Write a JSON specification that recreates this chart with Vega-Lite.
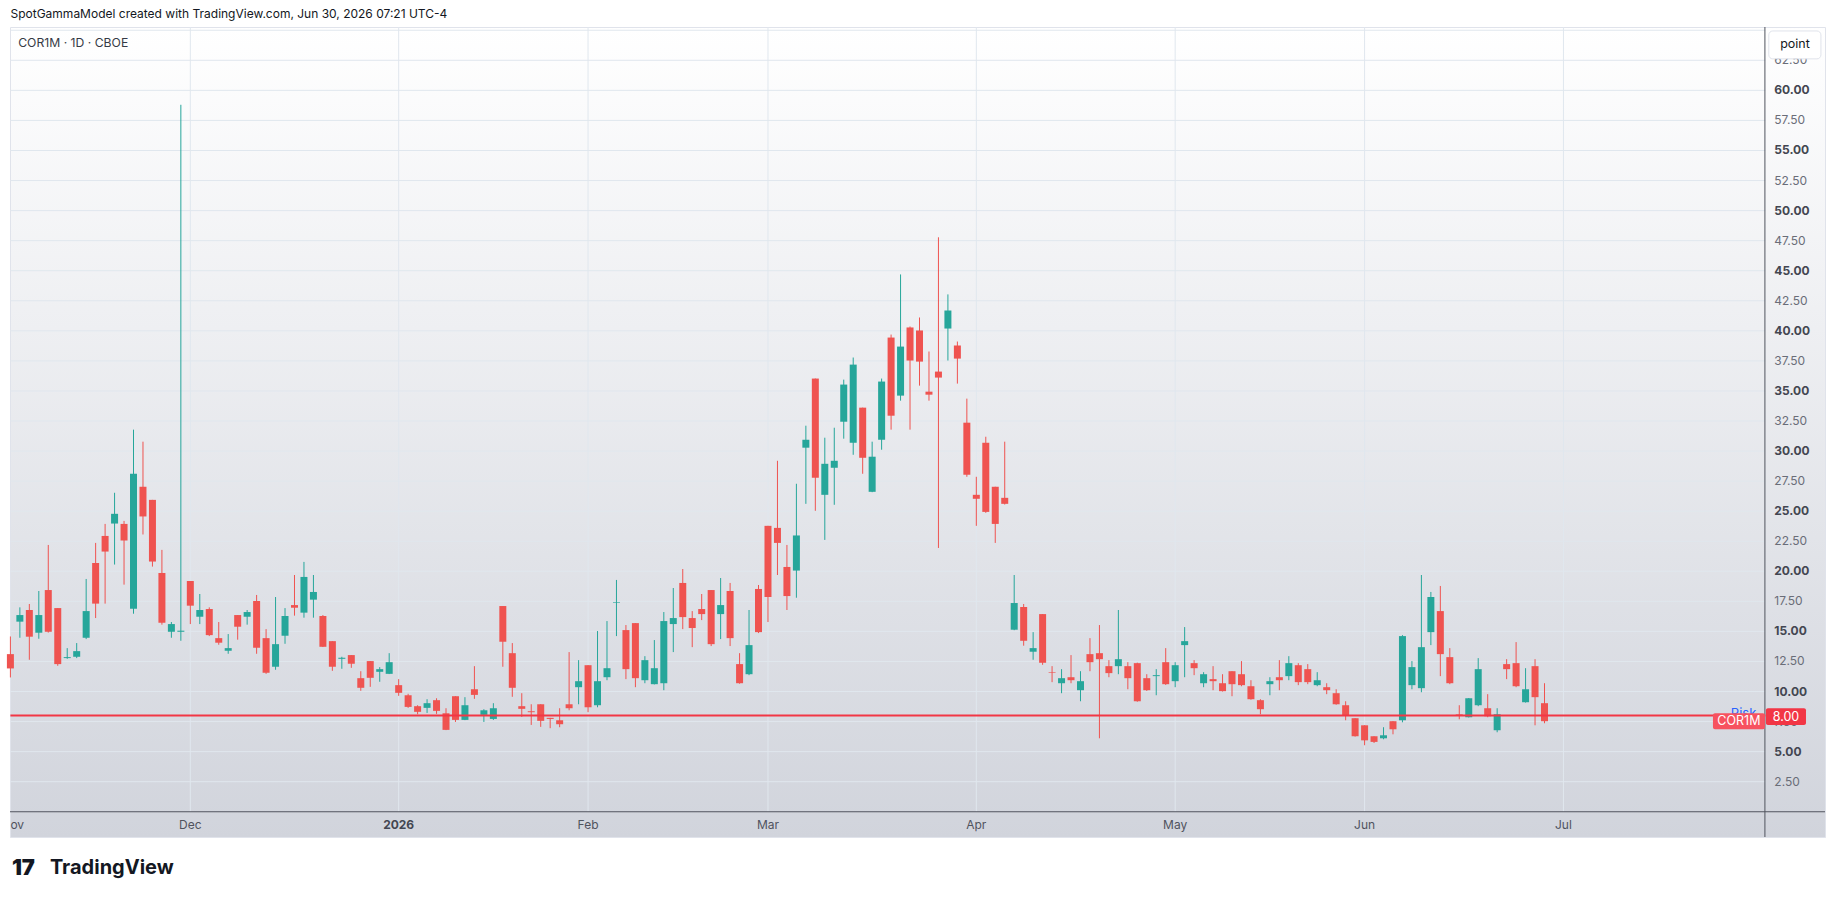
{
  "$schema": "https://vega.github.io/schema/vega-lite/v6.json",
  "width": 1815,
  "height": 810,
  "autosize": "none",
  "padding": {"left": 10, "top": 27, "right": 10, "bottom": 61},
  "background": "#ffffff",
  "config": {
    "font": "Inter",
    "view": {
      "fill": {"gradient": "linear", "x1": 0, "y1": 0, "x2": 0, "y2": 1,
        "stops": [{"offset": 0, "color": "#ffffff"}, {"offset": 1, "color": "#d1d4dc"}]},
      "stroke": "#e0e3eb"
    }
  },
  "title": {
    "text": "SpotGammaModel created with TradingView.com, Jun 30, 2026 07:21 UTC-4",
    "anchor": "start",
    "frame": "group",
    "offset": 6,
    "fontSize": 12,
    "fontWeight": "normal",
    "color": "#131722",
    "dx": 0.5
  },
  "datasets": {
    "candles": [
      {"d": "2025-11-03", "o": 13.11, "h": 14.58, "l": 11.17, "c": 11.92},
      {"d": "2025-11-04", "o": 15.81, "h": 17.0, "l": 14.47, "c": 16.36},
      {"d": "2025-11-05", "o": 16.78, "h": 17.28, "l": 12.64, "c": 14.56},
      {"d": "2025-11-06", "o": 14.89, "h": 18.36, "l": 14.39, "c": 16.36},
      {"d": "2025-11-07", "o": 18.44, "h": 22.19, "l": 14.9, "c": 14.97},
      {"d": "2025-11-10", "o": 16.94, "h": 16.94, "l": 12.14, "c": 12.28},
      {"d": "2025-11-11", "o": 12.78, "h": 13.61, "l": 12.72, "c": 12.86},
      {"d": "2025-11-12", "o": 12.89, "h": 14.03, "l": 12.78, "c": 13.36},
      {"d": "2025-11-13", "o": 14.47, "h": 19.36, "l": 14.36, "c": 16.69},
      {"d": "2025-11-14", "o": 20.69, "h": 22.36, "l": 16.11, "c": 17.31},
      {"d": "2025-11-17", "o": 22.94, "h": 23.94, "l": 17.31, "c": 21.64},
      {"d": "2025-11-18", "o": 23.97, "h": 26.53, "l": 20.56, "c": 24.78},
      {"d": "2025-11-19", "o": 23.94, "h": 24.19, "l": 18.89, "c": 22.56},
      {"d": "2025-11-20", "o": 16.89, "h": 31.78, "l": 16.47, "c": 28.11},
      {"d": "2025-11-21", "o": 27.03, "h": 30.78, "l": 23.06, "c": 24.56},
      {"d": "2025-11-24", "o": 25.94, "h": 25.94, "l": 20.39, "c": 20.81},
      {"d": "2025-11-25", "o": 19.86, "h": 21.78, "l": 15.56, "c": 15.72},
      {"d": "2025-11-26", "o": 14.97, "h": 15.78, "l": 14.47, "c": 15.61},
      {"d": "2025-11-28", "o": 14.97, "h": 58.8, "l": 14.22, "c": 15.06},
      {"d": "2025-12-01", "o": 19.19, "h": 19.19, "l": 15.61, "c": 17.14},
      {"d": "2025-12-02", "o": 16.22, "h": 18.11, "l": 15.61, "c": 16.78},
      {"d": "2025-12-03", "o": 16.86, "h": 17.0, "l": 14.61, "c": 14.69},
      {"d": "2025-12-04", "o": 14.44, "h": 15.78, "l": 13.89, "c": 14.06},
      {"d": "2025-12-05", "o": 13.39, "h": 14.78, "l": 13.14, "c": 13.61},
      {"d": "2025-12-08", "o": 16.36, "h": 16.36, "l": 14.31, "c": 15.39},
      {"d": "2025-12-09", "o": 16.22, "h": 16.78, "l": 15.56, "c": 16.61},
      {"d": "2025-12-10", "o": 17.53, "h": 18.03, "l": 13.14, "c": 13.64},
      {"d": "2025-12-11", "o": 14.44, "h": 15.19, "l": 11.47, "c": 11.56},
      {"d": "2025-12-12", "o": 12.06, "h": 17.86, "l": 11.81, "c": 13.94},
      {"d": "2025-12-15", "o": 14.64, "h": 16.94, "l": 13.97, "c": 16.28},
      {"d": "2025-12-16", "o": 17.19, "h": 19.69, "l": 16.31, "c": 16.97},
      {"d": "2025-12-17", "o": 16.56, "h": 20.78, "l": 16.14, "c": 19.53},
      {"d": "2025-12-18", "o": 17.64, "h": 19.69, "l": 16.14, "c": 18.28},
      {"d": "2025-12-19", "o": 16.28, "h": 16.36, "l": 13.7, "c": 13.72},
      {"d": "2025-12-22", "o": 14.19, "h": 14.19, "l": 11.72, "c": 12.06},
      {"d": "2025-12-23", "o": 12.72, "h": 12.89, "l": 11.89, "c": 12.81},
      {"d": "2025-12-24", "o": 13.03, "h": 13.03, "l": 11.97, "c": 12.31},
      {"d": "2025-12-26", "o": 11.11, "h": 11.69, "l": 10.06, "c": 10.31},
      {"d": "2025-12-29", "o": 12.53, "h": 12.53, "l": 10.39, "c": 11.14},
      {"d": "2025-12-30", "o": 11.64, "h": 12.03, "l": 10.81, "c": 11.86},
      {"d": "2025-12-31", "o": 11.47, "h": 13.19, "l": 11.45, "c": 12.44},
      {"d": "2026-01-02", "o": 10.53, "h": 11.03, "l": 9.64, "c": 9.89},
      {"d": "2026-01-05", "o": 9.69, "h": 9.81, "l": 8.64, "c": 8.72},
      {"d": "2026-01-06", "o": 8.78, "h": 8.86, "l": 8.11, "c": 8.31},
      {"d": "2026-01-07", "o": 8.64, "h": 9.36, "l": 8.22, "c": 9.03},
      {"d": "2026-01-08", "o": 9.28, "h": 9.44, "l": 8.14, "c": 8.39},
      {"d": "2026-01-09", "o": 8.19, "h": 8.61, "l": 6.79, "c": 6.81},
      {"d": "2026-01-12", "o": 9.61, "h": 9.61, "l": 7.47, "c": 7.64},
      {"d": "2026-01-13", "o": 7.64, "h": 9.53, "l": 7.62, "c": 8.86},
      {"d": "2026-01-14", "o": 10.19, "h": 12.11, "l": 9.39, "c": 9.72},
      {"d": "2026-01-15", "o": 8.06, "h": 8.53, "l": 7.47, "c": 8.44},
      {"d": "2026-01-16", "o": 7.72, "h": 9.03, "l": 7.64, "c": 8.61},
      {"d": "2026-01-20", "o": 17.11, "h": 17.11, "l": 12.06, "c": 14.14},
      {"d": "2026-01-21", "o": 13.19, "h": 14.03, "l": 9.56, "c": 10.31},
      {"d": "2026-01-22", "o": 8.78, "h": 9.86, "l": 7.89, "c": 8.56},
      {"d": "2026-01-23", "o": 8.36, "h": 8.94, "l": 7.22, "c": 8.28},
      {"d": "2026-01-26", "o": 8.94, "h": 8.94, "l": 7.06, "c": 7.56},
      {"d": "2026-01-27", "o": 7.81, "h": 7.81, "l": 6.95, "c": 7.72},
      {"d": "2026-01-28", "o": 7.61, "h": 8.61, "l": 7.03, "c": 7.28},
      {"d": "2026-01-29", "o": 8.94, "h": 13.28, "l": 8.44, "c": 8.61},
      {"d": "2026-01-30", "o": 10.36, "h": 12.61, "l": 8.94, "c": 10.86},
      {"d": "2026-02-02", "o": 12.19, "h": 12.19, "l": 8.28, "c": 8.69},
      {"d": "2026-02-03", "o": 8.86, "h": 15.03, "l": 8.69, "c": 10.86},
      {"d": "2026-02-04", "o": 11.19, "h": 15.86, "l": 10.94, "c": 11.94},
      {"d": "2026-02-05", "o": 17.39, "h": 19.28, "l": 14.61, "c": 17.44},
      {"d": "2026-02-06", "o": 15.11, "h": 15.53, "l": 11.03, "c": 11.86},
      {"d": "2026-02-09", "o": 15.69, "h": 15.69, "l": 10.36, "c": 11.11},
      {"d": "2026-02-10", "o": 10.94, "h": 12.94, "l": 10.69, "c": 12.61},
      {"d": "2026-02-11", "o": 10.61, "h": 14.28, "l": 10.59, "c": 11.94},
      {"d": "2026-02-12", "o": 10.69, "h": 16.61, "l": 10.11, "c": 15.86},
      {"d": "2026-02-13", "o": 15.61, "h": 18.61, "l": 13.28, "c": 16.11},
      {"d": "2026-02-17", "o": 19.03, "h": 20.19, "l": 15.19, "c": 16.19},
      {"d": "2026-02-18", "o": 16.11, "h": 16.69, "l": 13.69, "c": 15.28},
      {"d": "2026-02-19", "o": 16.86, "h": 18.11, "l": 15.94, "c": 16.44},
      {"d": "2026-02-20", "o": 18.44, "h": 18.44, "l": 13.78, "c": 13.94},
      {"d": "2026-02-23", "o": 16.44, "h": 19.44, "l": 14.36, "c": 17.19},
      {"d": "2026-02-24", "o": 18.36, "h": 19.03, "l": 13.78, "c": 14.44},
      {"d": "2026-02-25", "o": 12.28, "h": 13.19, "l": 10.65, "c": 10.69},
      {"d": "2026-02-26", "o": 11.44, "h": 16.78, "l": 11.36, "c": 13.86},
      {"d": "2026-02-27", "o": 18.53, "h": 18.86, "l": 14.86, "c": 14.94},
      {"d": "2026-03-02", "o": 23.78, "h": 23.78, "l": 15.78, "c": 17.86},
      {"d": "2026-03-03", "o": 23.61, "h": 29.19, "l": 19.69, "c": 22.36},
      {"d": "2026-03-04", "o": 20.36, "h": 22.19, "l": 16.78, "c": 17.94},
      {"d": "2026-03-05", "o": 20.06, "h": 27.28, "l": 17.8, "c": 22.98},
      {"d": "2026-03-06", "o": 30.28, "h": 32.11, "l": 25.61, "c": 30.94},
      {"d": "2026-03-09", "o": 36.03, "h": 36.03, "l": 25.03, "c": 27.78},
      {"d": "2026-03-10", "o": 26.36, "h": 31.11, "l": 22.61, "c": 28.94},
      {"d": "2026-03-11", "o": 28.61, "h": 31.94, "l": 25.53, "c": 29.19},
      {"d": "2026-03-12", "o": 32.44, "h": 35.94, "l": 31.03, "c": 35.53},
      {"d": "2026-03-13", "o": 30.69, "h": 37.78, "l": 29.69, "c": 37.19},
      {"d": "2026-03-16", "o": 33.61, "h": 33.61, "l": 28.11, "c": 29.44},
      {"d": "2026-03-17", "o": 26.61, "h": 30.78, "l": 26.58, "c": 29.53},
      {"d": "2026-03-18", "o": 30.94, "h": 36.03, "l": 30.11, "c": 35.78},
      {"d": "2026-03-19", "o": 39.44, "h": 39.69, "l": 31.78, "c": 32.94},
      {"d": "2026-03-20", "o": 34.61, "h": 44.69, "l": 34.19, "c": 38.69},
      {"d": "2026-03-23", "o": 40.28, "h": 40.36, "l": 31.78, "c": 37.53},
      {"d": "2026-03-24", "o": 40.03, "h": 41.11, "l": 35.44, "c": 37.44},
      {"d": "2026-03-25", "o": 34.94, "h": 38.28, "l": 34.19, "c": 34.69},
      {"d": "2026-03-26", "o": 36.61, "h": 47.78, "l": 21.94, "c": 36.11},
      {"d": "2026-03-27", "o": 40.19, "h": 43.03, "l": 37.53, "c": 41.69},
      {"d": "2026-03-30", "o": 38.78, "h": 39.11, "l": 35.61, "c": 37.69},
      {"d": "2026-03-31", "o": 32.36, "h": 34.36, "l": 27.86, "c": 28.03},
      {"d": "2026-04-01", "o": 26.36, "h": 27.86, "l": 23.78, "c": 26.03},
      {"d": "2026-04-02", "o": 30.69, "h": 31.19, "l": 24.86, "c": 24.94},
      {"d": "2026-04-06", "o": 27.03, "h": 27.03, "l": 22.36, "c": 23.94},
      {"d": "2026-04-07", "o": 26.11, "h": 30.78, "l": 25.55, "c": 25.61},
      {"d": "2026-04-08", "o": 15.14, "h": 19.69, "l": 15.1, "c": 17.36},
      {"d": "2026-04-09", "o": 17.03, "h": 17.28, "l": 13.81, "c": 14.22},
      {"d": "2026-04-10", "o": 13.31, "h": 14.94, "l": 12.64, "c": 13.61},
      {"d": "2026-04-13", "o": 16.44, "h": 16.44, "l": 12.22, "c": 12.39},
      {"d": "2026-04-14", "o": 11.61, "h": 12.11, "l": 10.78, "c": 11.56},
      {"d": "2026-04-15", "o": 10.69, "h": 11.86, "l": 9.86, "c": 11.11},
      {"d": "2026-04-16", "o": 11.19, "h": 13.03, "l": 10.69, "c": 10.94},
      {"d": "2026-04-17", "o": 10.11, "h": 11.69, "l": 9.19, "c": 10.86},
      {"d": "2026-04-20", "o": 13.11, "h": 14.44, "l": 11.69, "c": 12.44},
      {"d": "2026-04-21", "o": 13.19, "h": 15.53, "l": 6.11, "c": 12.69},
      {"d": "2026-04-22", "o": 12.11, "h": 12.61, "l": 11.19, "c": 11.53},
      {"d": "2026-04-23", "o": 12.11, "h": 16.78, "l": 11.44, "c": 12.69},
      {"d": "2026-04-24", "o": 12.11, "h": 12.44, "l": 10.19, "c": 11.11},
      {"d": "2026-04-27", "o": 12.36, "h": 12.4, "l": 9.15, "c": 9.19},
      {"d": "2026-04-28", "o": 11.11, "h": 11.44, "l": 10.05, "c": 10.11},
      {"d": "2026-04-29", "o": 11.28, "h": 11.86, "l": 9.69, "c": 11.36},
      {"d": "2026-04-30", "o": 12.44, "h": 13.61, "l": 10.55, "c": 10.61},
      {"d": "2026-05-01", "o": 10.86, "h": 12.44, "l": 10.36, "c": 12.19},
      {"d": "2026-05-04", "o": 13.86, "h": 15.36, "l": 11.19, "c": 14.19},
      {"d": "2026-05-05", "o": 12.36, "h": 12.61, "l": 11.36, "c": 11.94},
      {"d": "2026-05-06", "o": 10.69, "h": 11.61, "l": 10.36, "c": 11.44},
      {"d": "2026-05-07", "o": 11.03, "h": 12.11, "l": 10.11, "c": 10.86},
      {"d": "2026-05-08", "o": 10.69, "h": 11.44, "l": 10.0, "c": 10.03},
      {"d": "2026-05-11", "o": 11.69, "h": 11.69, "l": 9.61, "c": 10.61},
      {"d": "2026-05-12", "o": 11.44, "h": 12.53, "l": 10.44, "c": 10.53},
      {"d": "2026-05-13", "o": 10.44, "h": 10.94, "l": 9.32, "c": 9.36},
      {"d": "2026-05-14", "o": 9.28, "h": 9.36, "l": 8.11, "c": 8.53},
      {"d": "2026-05-15", "o": 10.61, "h": 11.19, "l": 9.69, "c": 10.86},
      {"d": "2026-05-18", "o": 11.19, "h": 12.61, "l": 10.11, "c": 10.94},
      {"d": "2026-05-19", "o": 11.28, "h": 12.94, "l": 10.94, "c": 12.36},
      {"d": "2026-05-20", "o": 12.19, "h": 12.36, "l": 10.53, "c": 10.78},
      {"d": "2026-05-21", "o": 11.86, "h": 12.28, "l": 10.61, "c": 10.78},
      {"d": "2026-05-22", "o": 10.53, "h": 11.61, "l": 10.44, "c": 10.94},
      {"d": "2026-05-26", "o": 10.36, "h": 10.69, "l": 9.78, "c": 10.11},
      {"d": "2026-05-27", "o": 9.86, "h": 10.19, "l": 8.9, "c": 8.94},
      {"d": "2026-05-28", "o": 8.86, "h": 9.19, "l": 7.61, "c": 8.03},
      {"d": "2026-05-29", "o": 7.78, "h": 7.78, "l": 6.25, "c": 6.28},
      {"d": "2026-06-01", "o": 7.19, "h": 7.19, "l": 5.53, "c": 5.94},
      {"d": "2026-06-02", "o": 6.28, "h": 6.28, "l": 5.72, "c": 5.81},
      {"d": "2026-06-03", "o": 6.11, "h": 7.03, "l": 6.03, "c": 6.36},
      {"d": "2026-06-04", "o": 7.53, "h": 7.53, "l": 6.44, "c": 6.86},
      {"d": "2026-06-05", "o": 7.61, "h": 14.69, "l": 7.44, "c": 14.61},
      {"d": "2026-06-08", "o": 10.53, "h": 12.53, "l": 10.19, "c": 12.03},
      {"d": "2026-06-09", "o": 10.28, "h": 19.69, "l": 9.94, "c": 13.69},
      {"d": "2026-06-10", "o": 14.94, "h": 18.28, "l": 13.86, "c": 17.86},
      {"d": "2026-06-11", "o": 16.69, "h": 18.78, "l": 11.28, "c": 13.11},
      {"d": "2026-06-12", "o": 12.86, "h": 13.61, "l": 10.61, "c": 10.69},
      {"d": "2026-06-15", "o": 8.11, "h": 8.86, "l": 7.69, "c": 8.06},
      {"d": "2026-06-16", "o": 7.86, "h": 9.46, "l": 7.84, "c": 9.44},
      {"d": "2026-06-17", "o": 8.86, "h": 12.78, "l": 8.78, "c": 11.86},
      {"d": "2026-06-18", "o": 8.61, "h": 9.78, "l": 7.86, "c": 7.94},
      {"d": "2026-06-22", "o": 6.78, "h": 8.61, "l": 6.61, "c": 8.11},
      {"d": "2026-06-23", "o": 12.28, "h": 12.69, "l": 11.03, "c": 11.86},
      {"d": "2026-06-24", "o": 12.36, "h": 14.11, "l": 10.36, "c": 10.44},
      {"d": "2026-06-25", "o": 9.11, "h": 11.94, "l": 9.08, "c": 10.19},
      {"d": "2026-06-26", "o": 12.11, "h": 12.69, "l": 7.19, "c": 9.53},
      {"d": "2026-06-29", "o": 9.03, "h": 10.69, "l": 7.36, "c": 7.53}
    ],
    "months": [
      {"d": "2025-11-03", "m": "ov"},
      {"d": "2025-12-01", "m": "Dec"}, {"d": "2026-01-02", "m": "2026"}, {"d": "2026-02-02", "m": "Feb"}, {"d": "2026-03-02", "m": "Mar"},
      {"d": "2026-04-01", "m": "Apr"}, {"d": "2026-05-01", "m": "May"}, {"d": "2026-06-01", "m": "Jun"}, {"d": "2026-07-01", "m": "Jul"}
    ],
    "levels": [
      {"v": 2.5}, {"v": 5}, {"v": 7.5}, {"v": 10}, {"v": 12.5}, {"v": 15}, {"v": 17.5}, {"v": 20},
      {"v": 22.5}, {"v": 25}, {"v": 27.5}, {"v": 30}, {"v": 32.5}, {"v": 35}, {"v": 37.5}, {"v": 40},
      {"v": 42.5}, {"v": 45}, {"v": 47.5}, {"v": 50}, {"v": 52.5}, {"v": 55}, {"v": 57.5}, {"v": 60},
      {"v": 62.5}, {"v": 65}
    ]
  },
  "layer": [
    {
      "data": {"name": "months"},
      "transform": [{"filter": "datum.m != 'ov'"}],
      "mark": {"type": "rule", "color": "#e0e7ee", "strokeWidth": 1},
      "encoding": {
        "x": {
          "field": "d",
          "type": "ordinal",
          "axis": null,
          "scale": {
            "type": "point",
            "padding": 0,
            "range": [0.4, 1818.6],
            "domain": [
              "2025-11-03","2025-11-04","2025-11-05","2025-11-06","2025-11-07","2025-11-10","2025-11-11","2025-11-12","2025-11-13","2025-11-14","2025-11-17","2025-11-18","2025-11-19","2025-11-20","2025-11-21","2025-11-24","2025-11-25","2025-11-26","2025-11-28",
              "2025-12-01","2025-12-02","2025-12-03","2025-12-04","2025-12-05","2025-12-08","2025-12-09","2025-12-10","2025-12-11","2025-12-12","2025-12-15","2025-12-16","2025-12-17","2025-12-18","2025-12-19","2025-12-22","2025-12-23","2025-12-24","2025-12-26","2025-12-29","2025-12-30","2025-12-31",
              "2026-01-02","2026-01-05","2026-01-06","2026-01-07","2026-01-08","2026-01-09","2026-01-12","2026-01-13","2026-01-14","2026-01-15","2026-01-16","2026-01-20","2026-01-21","2026-01-22","2026-01-23","2026-01-26","2026-01-27","2026-01-28","2026-01-29","2026-01-30",
              "2026-02-02","2026-02-03","2026-02-04","2026-02-05","2026-02-06","2026-02-09","2026-02-10","2026-02-11","2026-02-12","2026-02-13","2026-02-17","2026-02-18","2026-02-19","2026-02-20","2026-02-23","2026-02-24","2026-02-25","2026-02-26","2026-02-27",
              "2026-03-02","2026-03-03","2026-03-04","2026-03-05","2026-03-06","2026-03-09","2026-03-10","2026-03-11","2026-03-12","2026-03-13","2026-03-16","2026-03-17","2026-03-18","2026-03-19","2026-03-20","2026-03-23","2026-03-24","2026-03-25","2026-03-26","2026-03-27","2026-03-30","2026-03-31",
              "2026-04-01","2026-04-02","2026-04-06","2026-04-07","2026-04-08","2026-04-09","2026-04-10","2026-04-13","2026-04-14","2026-04-15","2026-04-16","2026-04-17","2026-04-20","2026-04-21","2026-04-22","2026-04-23","2026-04-24","2026-04-27","2026-04-28","2026-04-29","2026-04-30",
              "2026-05-01","2026-05-04","2026-05-05","2026-05-06","2026-05-07","2026-05-08","2026-05-11","2026-05-12","2026-05-13","2026-05-14","2026-05-15","2026-05-18","2026-05-19","2026-05-20","2026-05-21","2026-05-22","2026-05-26","2026-05-27","2026-05-28","2026-05-29",
              "2026-06-01","2026-06-02","2026-06-03","2026-06-04","2026-06-05","2026-06-08","2026-06-09","2026-06-10","2026-06-11","2026-06-12","2026-06-15","2026-06-16","2026-06-17","2026-06-18","2026-06-22","2026-06-23","2026-06-24","2026-06-25","2026-06-26","2026-06-29","2026-06-30",
              "2026-07-01","2026-07-02","2026-07-06","2026-07-07","2026-07-08","2026-07-09","2026-07-10","2026-07-13","2026-07-14","2026-07-15","2026-07-16","2026-07-17","2026-07-20","2026-07-21","2026-07-22","2026-07-23","2026-07-24","2026-07-27","2026-07-28","2026-07-29","2026-07-30","2026-07-31",
              "2026-08-03","2026-08-04","2026-08-05","2026-08-06","2026-08-07","2026-08-10","2026-08-11"
            ]
          }
        },
        "y": {"datum": 0, "axis": null, "scale": {"domain": [-2.1, 65.27], "nice": false, "zero": false}},
        "y2": {"datum": 65.27}
      }
    },
    {
      "data": {"name": "levels"},
      "mark": {"type": "rule", "color": "#e0e7ee", "strokeWidth": 1, "x2Offset": 3},
      "encoding": {
        "y": {"field": "v", "type": "quantitative", "axis": null},
        "x": {"datum": "2025-11-03", "type": "ordinal", "axis": null},
        "x2": {"datum": "2026-07-31"}
      }
    },
    {
      "data": {"values": [{"v": 0}]},
      "mark": {"type": "rule", "color": "#50535e", "strokeWidth": 1},
      "encoding": {
        "y": {"field": "v", "type": "quantitative", "axis": null}
      }
    },
    {
      "data": {"values": [{"d": "2026-07-31"}]},
      "mark": {"type": "rule", "color": "#50535e", "strokeWidth": 1, "xOffset": 2.6},
      "encoding": {
        "x": {"field": "d", "type": "ordinal", "axis": null}
      }
    },
    {
      "data": {"name": "candles"},
      "mark": {"type": "rule", "strokeWidth": 1},
      "encoding": {
        "x": {"field": "d", "type": "ordinal", "axis": null},
        "y": {"field": "l", "type": "quantitative", "axis": null},
        "y2": {"field": "h"},
        "color": {"condition": {"test": "datum.c >= datum.o", "value": "#26a69a"}, "value": "#ef5350"}
      }
    },
    {
      "data": {"name": "candles"},
      "mark": {"type": "rule", "strokeWidth": 7, "strokeCap": "butt"},
      "encoding": {
        "x": {"field": "d", "type": "ordinal", "axis": null},
        "y": {"field": "o", "type": "quantitative", "axis": null},
        "y2": {"field": "c"},
        "color": {"condition": {"test": "datum.c >= datum.o", "value": "#26a69a"}, "value": "#ef5350"}
      }
    },
    {
      "data": {"values": [{"v": 8}]},
      "mark": {"type": "rule", "color": "#f23645", "strokeWidth": 2, "x2Offset": 3},
      "encoding": {
        "y": {"field": "v", "type": "quantitative", "axis": null},
        "x": {"datum": "2025-11-03", "type": "ordinal", "axis": null},
        "x2": {"datum": "2026-07-31"}
      }
    },
    {
      "data": {"name": "levels"},
      "transform": [{"filter": "datum.v < 64 && datum.v % 5 === 0"}],
      "mark": {"type": "text", "color": "#434651", "fontSize": 12, "fontWeight": "bold", "align": "left", "baseline": "middle", "dx": 12},
      "encoding": {
        "text": {"field": "v", "type": "quantitative", "format": ".2f"},
        "y": {"field": "v", "type": "quantitative", "axis": null},
        "x": {"datum": "2026-07-31", "type": "ordinal", "axis": null}
      }
    },
    {
      "data": {"name": "levels"},
      "transform": [{"filter": "datum.v < 64 && datum.v % 5 !== 0"}],
      "mark": {"type": "text", "color": "#6a6d78", "fontSize": 12, "align": "left", "baseline": "middle", "dx": 12},
      "encoding": {
        "text": {"field": "v", "type": "quantitative", "format": ".2f"},
        "y": {"field": "v", "type": "quantitative", "axis": null},
        "x": {"datum": "2026-07-31", "type": "ordinal", "axis": null}
      }
    },
    {
      "data": {"name": "months"},
      "transform": [{"filter": "datum.m != 'ov' && datum.m != '2026'"}],
      "mark": {"type": "text", "color": "#50535e", "fontSize": 12, "align": "center", "baseline": "middle"},
      "encoding": {
        "text": {"field": "m"},
        "x": {"field": "d", "type": "ordinal", "axis": null},
        "y": {"datum": -1.1, "axis": null}
      }
    },
    {
      "data": {"name": "months"},
      "transform": [{"filter": "datum.m == '2026'"}],
      "mark": {"type": "text", "color": "#434651", "fontSize": 12, "fontWeight": "bold", "align": "center", "baseline": "middle"},
      "encoding": {
        "text": {"field": "m"},
        "x": {"field": "d", "type": "ordinal", "axis": null},
        "y": {"datum": -1.1, "axis": null}
      }
    },
    {
      "data": {"name": "months"},
      "transform": [{"filter": "datum.m == 'ov'"}],
      "mark": {"type": "text", "color": "#50535e", "fontSize": 12, "align": "left", "baseline": "middle"},
      "encoding": {
        "text": {"field": "m"},
        "x": {"field": "d", "type": "ordinal", "axis": null},
        "y": {"datum": -1.1, "axis": null}
      }
    },
    {
      "data": {"values": [{"t": "Risk"}]},
      "mark": {"type": "text", "color": "#2962ff", "fontSize": 13, "align": "right", "baseline": "middle", "dx": -6},
      "encoding": {
        "text": {"field": "t"},
        "x": {"datum": "2026-07-31", "type": "ordinal", "axis": null},
        "y": {"datum": 8.12, "axis": null}
      }
    },
    {
      "data": {"values": [{"t": "COR1M"}]},
      "layer": [
        {
          "mark": {"type": "rect", "color": "#f7525f", "cornerRadius": 2, "xOffset": -2, "x2Offset": 2.6},
          "encoding": {
            "x": {"datum": "2026-07-24", "type": "ordinal", "axis": null},
            "x2": {"datum": "2026-07-31"},
            "y": {"datum": 8.19, "axis": null},
            "y2": {"datum": 6.86}
          }
        },
        {
          "mark": {"type": "text", "color": "#ffffff", "fontSize": 12.5, "align": "center", "baseline": "middle", "dx": 5},
          "encoding": {
            "text": {"field": "t"},
            "x": {"datum": "2026-07-28", "type": "ordinal", "axis": null},
            "y": {"datum": 7.52, "axis": null}
          }
        }
      ]
    },
    {
      "data": {"values": [{"t": "8.00"}]},
      "layer": [
        {
          "mark": {"type": "rect", "color": "#f23645", "cornerRadius": 2, "xOffset": 3.6, "x2Offset": 5.8},
          "encoding": {
            "x": {"datum": "2026-07-31", "type": "ordinal", "axis": null},
            "x2": {"datum": "2026-08-06"},
            "y": {"datum": 8.61, "axis": null},
            "y2": {"datum": 7.22}
          }
        },
        {
          "mark": {"type": "text", "color": "#ffffff", "fontSize": 12.5, "align": "center", "baseline": "middle", "dx": 4.7},
          "encoding": {
            "text": {"field": "t"},
            "x": {"datum": "2026-08-04", "type": "ordinal", "axis": null},
            "y": {"datum": 7.91, "axis": null}
          }
        }
      ]
    },
    {
      "data": {"values": [{"t": "point"}]},
      "layer": [
        {
          "mark": {"type": "rect", "fill": "#ffffff", "stroke": "#e0e3eb", "strokeWidth": 1, "cornerRadius": 4, "xOffset": -3, "x2Offset": 1.8},
          "encoding": {
            "x": {"datum": "2026-08-03", "type": "ordinal", "axis": null},
            "x2": {"datum": "2026-08-10"},
            "y": {"datum": 64.94, "axis": null},
            "y2": {"datum": 62.62}
          }
        },
        {
          "mark": {"type": "text", "color": "#131722", "fontSize": 12.5, "align": "center", "baseline": "middle", "dx": 4.3},
          "encoding": {
            "text": {"field": "t"},
            "x": {"datum": "2026-08-05", "type": "ordinal", "axis": null},
            "y": {"datum": 63.86, "axis": null}
          }
        }
      ]
    },
    {
      "data": {"values": [{"t": "COR1M · 1D · CBOE"}]},
      "mark": {"type": "text", "color": "#363a45", "fontSize": 12.2, "align": "left", "baseline": "middle", "dx": 7.8},
      "encoding": {
        "text": {"field": "t"},
        "x": {"datum": "2025-11-03", "type": "ordinal", "axis": null},
        "y": {"datum": 63.9, "axis": null}
      }
    },
    {
      "data": {"values": [{"t": "17", "n": "TradingView"}]},
      "layer": [
        {
          "mark": {"type": "text", "color": "#131722", "fontSize": 22, "fontWeight": 900, "align": "left", "baseline": "middle", "dx": 1.5, "letterSpacing": 1},
          "encoding": {
            "text": {"field": "t"},
            "x": {"datum": "2025-11-03", "type": "ordinal", "axis": null},
            "y": {"datum": -4.7, "axis": null}
          }
        },
        {
          "mark": {"type": "text", "color": "#131722", "fontSize": 20, "fontWeight": "bold", "align": "left", "baseline": "middle", "dx": 39.5},
          "encoding": {
            "text": {"field": "n"},
            "x": {"datum": "2025-11-03", "type": "ordinal", "axis": null},
            "y": {"datum": -4.7, "axis": null}
          }
        }
      ]
    }
  ]
}
